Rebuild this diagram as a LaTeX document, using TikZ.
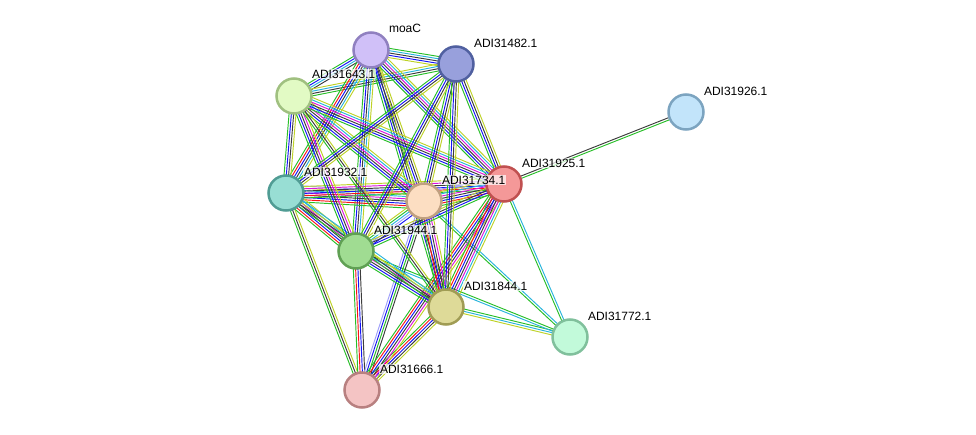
\documentclass[tikz,border=0pt]{standalone}
\usepackage{fontspec}
\setmainfont{Liberation Sans}
\usetikzlibrary{calc}
\pgfdeclarelayer{bg}
\pgfsetlayers{bg,main}
\definecolor{eg}{RGB}{40,190,40}
\definecolor{er}{RGB}{250,20,20}
\definecolor{eb}{RGB}{20,20,245}
\definecolor{ek}{RGB}{60,60,60}
\definecolor{em}{RGB}{220,20,220}
\definecolor{ec}{RGB}{40,180,220}
\definecolor{ey}{RGB}{190,210,40}
\definecolor{eh}{RGB}{160,160,250}
\tikzset{
  prot/.style={circle, minimum size=35pt, inner sep=0pt, line width=2.5pt},
  lab/.style={anchor=west, font=\fontsize{12}{14}\selectfont, fill=white, fill opacity=0.7, text opacity=1, inner sep=0.8pt},
  strand/.style={line width=0.95pt}
}
\newcommand\linkset[3]{%
  \xdef\nstr{0}%
  \foreach \cc in {#3}{\xdef\nstr{\the\numexpr\nstr+1\relax}}%
  \foreach \cc [count=\ii] in {#3}{%
    \pgfmathsetmacro\off{(\ii-(\nstr+1)/2)*2.3}%
    \draw[strand, draw=\cc] ($(#1)!\off pt!90:(#2)$) -- ($(#2)!\off pt!-90:(#1)$);%
  }%
}
\begin{document}
\begin{tikzpicture}[x=1pt,y=-1pt]
\useasboundingbox (0,0) rectangle (976,435);
% nodes
\node[prot, fill={rgb,255:red,208;green,192;blue,248}, draw={rgb,255:red,144;green,128;blue,192}] (moaC) at (371,50) {};
\node[prot, fill={rgb,255:red,152;green,160;blue,220}, draw={rgb,255:red,80;green,96;blue,160}] (n482) at (456,64) {};
\node[prot, fill={rgb,255:red,226;green,250;blue,196}, draw={rgb,255:red,160;green,192;blue,128}] (n643) at (294,96) {};
\node[prot, fill={rgb,255:red,194;green,228;blue,250}, draw={rgb,255:red,124;green,164;blue,192}] (n926) at (686,112) {};
\node[prot, fill={rgb,255:red,244;green,152;blue,152}, draw={rgb,255:red,192;green,80;blue,80}] (n925) at (504,184) {};
\node[prot, fill={rgb,255:red,152;green,222;blue,212}, draw={rgb,255:red,80;green,156;blue,148}] (n932) at (286,193) {};
\node[prot, fill={rgb,255:red,252;green,222;blue,194}, draw={rgb,255:red,192;green,160;blue,128}] (n734) at (424,201) {};
\node[prot, fill={rgb,255:red,160;green,220;blue,146}, draw={rgb,255:red,96;green,160;blue,84}] (n944) at (356,251) {};
\node[prot, fill={rgb,255:red,222;green,218;blue,152}, draw={rgb,255:red,160;green,156;blue,84}] (n844) at (446,307) {};
\node[prot, fill={rgb,255:red,194;green,250;blue,218}, draw={rgb,255:red,128;green,192;blue,156}] (n772) at (570,337) {};
\node[prot, fill={rgb,255:red,244;green,196;blue,196}, draw={rgb,255:red,184;green,128;blue,128}] (n666) at (362,390) {};
% edges
\begin{pgfonlayer}{bg}
\linkset{n925}{n926}{eg,ek}
\linkset{n844}{n772}{ey,ec,eg}
\linkset{n925}{n772}{eg,ec}
\linkset{n734}{n772}{eg,ec}
\linkset{n944}{n772}{ec,eg}
\linkset{moaC}{n482}{ey,eb,ek,ec,eg}
\linkset{moaC}{n643}{eg,eb,ec,ek}
\linkset{n643}{n482}{eg,ek,ec,ey}
\linkset{moaC}{n932}{eg,er,eb,ek,ec,ey}
\linkset{moaC}{n734}{eg,eb,ek,ey}
\linkset{moaC}{n944}{eg,eb,ek,ec,ey}
\linkset{moaC}{n844}{eg,eb,ek,ey}
\linkset{moaC}{n925}{eg,eb,ek,em,ec,ey}
\linkset{n932}{n666}{eg,ek,ey}
\linkset{n944}{n666}{eg,er,eb,ek}
\linkset{n734}{n666}{eh,eb,eg,ek}
\linkset{n844}{n666}{eg,er,eb,ek,ey}
\linkset{n925}{n666}{eg,er,eb,ek,em,ey}
\linkset{n932}{n734}{eg,er,eb,ek,em,ec,ey,eh}
\linkset{n932}{n925}{eg,er,eb,ek,em,ey}
\linkset{n734}{n925}{eg,er,eb,ek,em,ec,ey,eh}
\linkset{n932}{n944}{eg,er,eb,ek,em,ec,ey}
\linkset{n944}{n844}{eg,eb,ek,em,ec,ey}
\linkset{n734}{n844}{eg,er,eb,ek,em,ey}
\linkset{n925}{n844}{eg,er,eb,ek,em,ec,ey}
\linkset{n944}{n734}{eb,eh,ec,eg,ey}
\linkset{n944}{n925}{eg,eb,ek,ey}
\linkset{n932}{n844}{eg,ek,ey,ec}
\linkset{n643}{n932}{eg,eb,ek,ey}
\linkset{n643}{n734}{eg,eb,ek,em,ec,ey}
\linkset{n643}{n925}{eg,eb,ek,em,ec,ey}
\linkset{n643}{n944}{eg,eb,ek,em,ey}
\linkset{n643}{n844}{eg,ek,ey}
\linkset{n482}{n932}{eg,eb,ek,ey}
\linkset{n482}{n734}{eg,eb,ek,ey}
\linkset{n482}{n925}{eg,eb,ek,ey}
\linkset{n482}{n944}{eg,eb,ek,ey}
\linkset{n482}{n844}{eg,eb,ek,ey}
\end{pgfonlayer}
% labels
\node[lab] at ($(moaC)+(17,-22)$) {moaC};
\node[lab] at ($(n482)+(17,-21)$) {ADI31482.1};
\node[lab] at ($(n643)+(17,-22)$) {ADI31643.1};
\node[lab] at ($(n926)+(17,-21)$) {ADI31926.1};
\node[lab] at ($(n925)+(17,-21)$) {ADI31925.1};
\node[lab] at ($(n932)+(17,-21)$) {ADI31932.1};
\node[lab] at ($(n734)+(17,-21)$) {ADI31734.1};
\node[lab] at ($(n944)+(17,-21)$) {ADI31944.1};
\node[lab] at ($(n844)+(17,-21)$) {ADI31844.1};
\node[lab] at ($(n772)+(17,-21)$) {ADI31772.1};
\node[lab] at ($(n666)+(17,-21)$) {ADI31666.1};
\end{tikzpicture}
\end{document}
